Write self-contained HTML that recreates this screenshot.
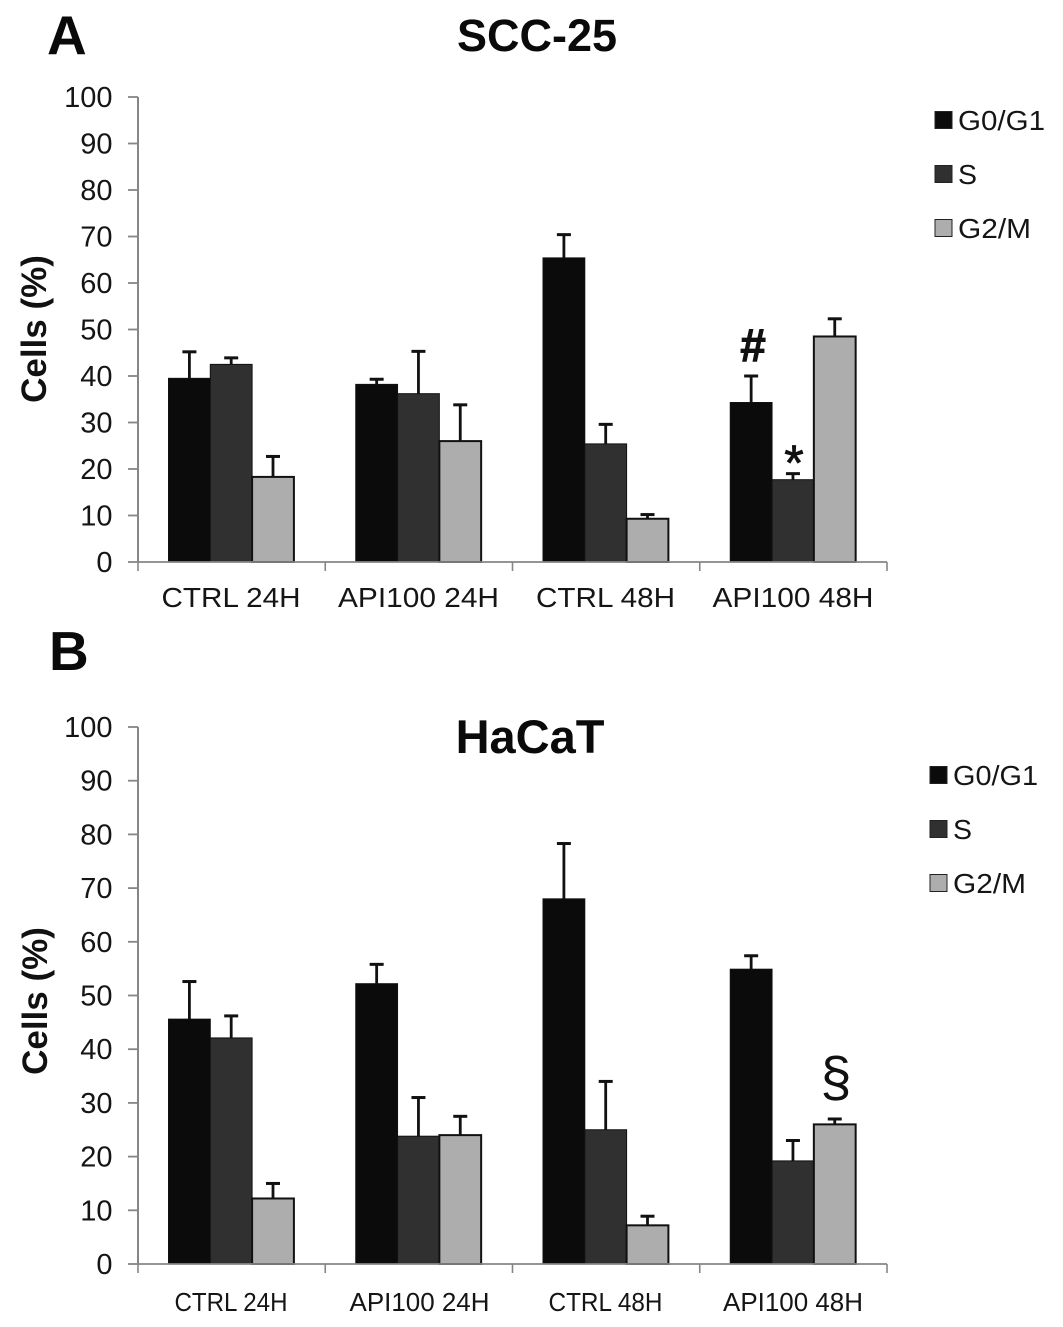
<!DOCTYPE html>
<html>
<head>
<meta charset="utf-8">
<title>Cell cycle distribution</title>
<style>
html,body{margin:0;padding:0;background:#fff;}
svg{display:block;font-family:"Liberation Sans",sans-serif;}
</style>
</head>
<body>
<svg id="fig" xmlns="http://www.w3.org/2000/svg" width="1063" height="1327" viewBox="0 0 1063 1327">
  <rect width="1063" height="1327" fill="#fff"/>
</svg>
<script>
// Shared data
const categories = ["CTRL 24H", "API100 24H", "CTRL 48H", "API100 48H"];
const seriesNames = ["G0/G1", "S", "G2/M"];
const yTicks = [0, 10, 20, 30, 40, 50, 60, 70, 80, 90, 100];

// Panel A (SCC-25)
const sccG0 = [39.5, 38.2, 65.4, 34.3];
const sccS = [42.5, 36.2, 25.4, 17.7];
const sccG2 = [18.3, 26.0, 9.3, 48.5];
const sccG0Err = [5.7, 1.1, 5.0, 5.7];
const sccSErr = [1.4, 9.1, 4.2, 1.3];
const sccG2Err = [4.4, 7.8, 0.9, 3.8];

// Panel B (HaCaT)
const hacatG0 = [45.6, 52.2, 68.0, 54.9];
const hacatS = [42.1, 23.8, 25.0, 19.2];
const hacatG2 = [12.2, 24.0, 7.2, 26.0];
const hacatG0Err = [7.0, 3.6, 10.3, 2.5];
const hacatSErr = [4.1, 7.2, 9.0, 3.8];
const hacatG2Err = [2.8, 3.5, 1.7, 1.0];

const NS = "http://www.w3.org/2000/svg";
const svg = document.getElementById("fig");
const fills = ["#0b0b0b", "#303030", "#adadad"];
const AXIS = "#868686";

function mk(tag, attrs, parent, text) {
  const el = document.createElementNS(NS, tag);
  for (const k in attrs) el.setAttribute(k, attrs[k]);
  if (text !== undefined) el.textContent = text;
  (parent || svg).appendChild(el);
  return el;
}

function drawPanel(cfg) {
  const g = mk("g", {});
  
  

  const x0 = 138, x1 = 887;
  const groupW = (x1 - x0) / categories.length;
  const barW = 41.8;
  const yScale = v => cfg.yBase - (v / 100) * (cfg.yBase - cfg.yTop);

  // Bars and error bars
  cfg.values.forEach((vals, s) => {
    vals.forEach((v, c) => {
      const left = x0 + groupW * c + 30.5 + s * barW;
      const top = yScale(v);
      const cx = left + barW / 2;
      const errTop = yScale(v + cfg.errors[s][c]);
      const stem = mk("line", {x1: cx, x2: cx, y1: top, y2: errTop, stroke: "#111", "stroke-width": 2.8}, g);
      
      
      const cap = mk("line", {x1: cx - 7, x2: cx + 7, y1: errTop, y2: errTop, stroke: "#111", "stroke-width": 3}, g);
      
      

      const bar = mk("rect", {
        x: left, y: top, width: barW, height: cfg.yBase - top,
        fill: fills[s],
        stroke: "#111", "stroke-width": s === 2 ? 2 : 1
      }, g);
      
      
    });
  });

  // Y axis
  const yAxis = mk("line", {x1: x0, x2: x0, y1: yScale(100), y2: cfg.yBase, stroke: AXIS, "stroke-width": 2}, g);
  
  
  yTicks.forEach(t => {
    const y = yScale(t);
    const tick = mk("line", {x1: x0 - 10, x2: x0, y1: y, y2: y, stroke: AXIS, "stroke-width": 1.8}, g);
    
    
    const lab = mk("text", {x: 112.5, y: y + 10, "text-anchor": "end", "font-size": 29, fill: "#151515"}, g, String(t));
    
    
  });

  // X axis
  const xAxis = mk("line", {x1: x0, x2: x1, y1: cfg.yBase, y2: cfg.yBase, stroke: AXIS, "stroke-width": 1.8}, g);
  
  
  for (let i = 0; i <= categories.length; i++) {
    const x = x0 + groupW * i;
    const tick = mk("line", {x1: x, x2: x, y1: cfg.yBase, y2: cfg.yBase + 9, stroke: AXIS, "stroke-width": 1.6}, g);
    
    
  }
  categories.forEach((c, i) => {
    const lab = mk("text", {
      x: cfg.labelX[i], y: cfg.labelY, "text-anchor": "middle", "font-size": cfg.labelSize,
      fill: "#151515", textLength: cfg.labelW[i], lengthAdjust: "spacingAndGlyphs"
    }, g, c);
    
    
  });

  // Y title
  const yt = mk("text", {
    transform: "translate(" + cfg.yTitleX + "," + cfg.yTitleY + ") rotate(-90)",
    "text-anchor": "middle", "font-size": 35, "font-weight": "bold", fill: "#111"
  }, g, "Cells (%)");
  
  

  // Title
  const title = mk("text", {x: cfg.titleX, y: cfg.titleY, "text-anchor": "middle", "font-size": cfg.titleSize, "font-weight": "bold", fill: "#0a0a0a"}, g, cfg.title);
  
  

  // Panel letter
  const letter = mk("text", {x: cfg.letterX, y: cfg.letterY, "font-size": 55, "font-weight": "bold", fill: "#0a0a0a"}, g, cfg.letter);
  
  

  // Legend
  seriesNames.forEach((n, i) => {
    const y = cfg.legendY + i * 54;
    const sw = mk("rect", {x: cfg.legendX, y: y - 8.5, width: 17, height: 17, fill: fills[i], stroke: "#222", "stroke-width": 1}, g);
    
    
    const lt = mk("text", {x: cfg.legendX + 23, y: y + 10, "font-size": 27.5, fill: "#151515", textLength: cfg.legendW[i], lengthAdjust: "spacingAndGlyphs"}, g, n);
    
    
  });

  // Annotations
  cfg.notes.forEach(nt => {
    const t = mk("text", {x: nt.x, y: nt.y, "text-anchor": "middle", "font-size": nt.size, "font-weight": nt.bold ? "bold" : "normal", fill: "#111", stroke: "#111", "stroke-width": nt.stroke}, g, nt.text);
    
    
  });
}

drawPanel({
  key: "scc25", title: "SCC-25", letter: "A", titleSize: 45,
  yTop: 97, yBase: 562,
  values: [sccG0, sccS, sccG2], errors: [sccG0Err, sccSErr, sccG2Err],
  labelX: [231, 418.5, 605.5, 793], labelY: 607, labelSize: 28, labelW: [139, 161, 139, 161],
  yTitleX: 46, yTitleY: 329,
  titleX: 537, titleY: 51, letterX: 47, letterY: 54,
  legendX: 935, legendY: 120, legendW: [87, 19, 73],
  notes: [
    {x: 753, y: 361, size: 46, bold: true, stroke: 1, text: "#", name: "significance-hash"},
    {x: 794, y: 480, size: 50, bold: false, stroke: 0.8, text: "*", name: "significance-asterisk"}
  ]
});

drawPanel({
  key: "hacat", title: "HaCaT", letter: "B", titleSize: 47,
  yTop: 727, yBase: 1264,
  values: [hacatG0, hacatS, hacatG2], errors: [hacatG0Err, hacatSErr, hacatG2Err],
  labelX: [231, 419.5, 605.5, 793], labelY: 1311, labelSize: 25.5, labelW: [113, 140, 114, 140],
  yTitleX: 47, yTitleY: 1001,
  titleX: 530, titleY: 753, letterX: 49, letterY: 670,
  legendX: 930, legendY: 775, legendW: [85, 19, 73],
  notes: [
    {x: 836, y: 1096, size: 56, bold: false, stroke: 0, text: "§", name: "significance-section-sign"}
  ]
});
</script>
</body>
</html>
